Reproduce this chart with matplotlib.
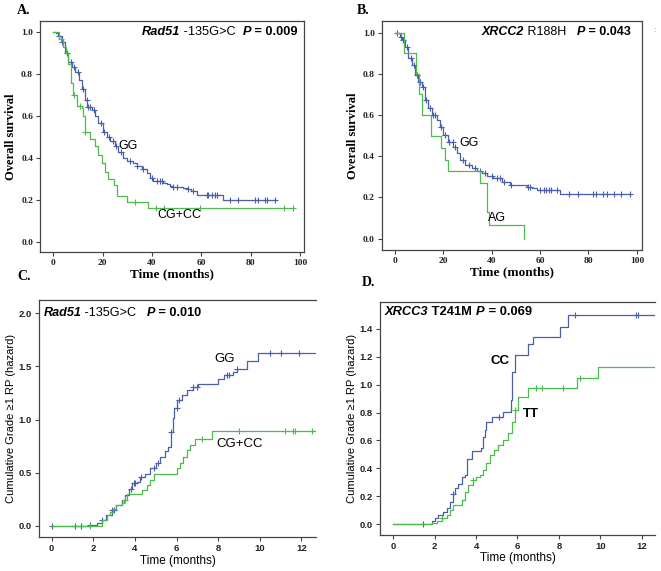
import numpy as np
import matplotlib
matplotlib.use("Agg")
import matplotlib.pyplot as plt

BLUE = "#4a5fab"
GREEN = "#4dbb4d"
SERIF = ["Liberation Serif", "DejaVu Serif"]
SANS = ["Liberation Sans", "DejaVu Sans"]

# ---- A: Rad51 -135G>C, overall survival
tA_gg = [0, 1, 2, 3.4, 4.7, 6.1, 7.4, 8.8, 10.5, 11.5, 12.8, 13.8, 15.5, 16.9, 18.2, 20.3,
         21.6, 23, 25, 26.4, 28.4, 29.7, 32.4, 33.8, 35.8, 37.8, 39.2, 40.5, 44.6, 45.9,
         47.3, 48.6, 52.7, 54, 56, 58.1, 68.7, 90.3]
sA_gg = [1.0, 0.995, 0.98, 0.955, 0.9, 0.86, 0.836, 0.81, 0.77, 0.73, 0.676, 0.645, 0.63,
         0.6, 0.565, 0.525, 0.5, 0.48, 0.455, 0.43, 0.4, 0.385, 0.376, 0.36, 0.345, 0.33,
         0.305, 0.29, 0.279, 0.275, 0.265, 0.263, 0.255, 0.25, 0.24, 0.223, 0.199, 0.199]
cA_gg = [2.5, 3.5, 5.5, 7, 8.2, 10, 12.2, 13.5, 14.2, 15, 16.5, 19.5, 20.5, 22.5, 24, 25.5,
         27.5, 31, 33.8, 36.5, 39.9, 41.9, 43.3, 43.9, 48.6, 50, 54.7, 56.7, 62.2, 62.8,
         64.2, 65.5, 66.2, 71.6, 75, 81.8, 83.1, 85.8, 86.5, 89.9]
tA_cg = [0, 2.5, 4, 5, 6, 7, 8, 9.7, 11.5, 12.2, 12.9, 14.7, 16.9, 18.3, 19.6, 21, 22.3,
         24.5, 26, 29.7, 38.5, 97.3]
sA_cg = [1.0, 0.97, 0.93, 0.9, 0.85, 0.76, 0.70, 0.65, 0.64, 0.60, 0.525, 0.49, 0.455,
         0.415, 0.375, 0.335, 0.30, 0.27, 0.22, 0.191, 0.16, 0.16]
cA_cg = [3, 8.2, 11, 13, 33.1, 41.5, 44.9, 59.5, 93.5, 97.3]

# ---- B: XRCC2 R188H, overall survival
tB_gg = [0, 0.7, 2, 2.8, 4.1, 5.5, 6.9, 8.3, 9.7, 11, 12.4, 13.8, 15.2, 17.2, 18.6, 20,
         22.1, 24.1, 25.5, 26.9, 29, 31.7, 33.8, 35.9, 37.9, 40.7, 44.1, 47.6, 54.5, 56.6,
         58.6, 68.3, 97.2]
sB_gg = [1.0, 1.0, 0.98, 0.964, 0.93, 0.875, 0.843, 0.795, 0.762, 0.738, 0.673, 0.633,
         0.6, 0.576, 0.544, 0.503, 0.47, 0.447, 0.414, 0.382, 0.358, 0.342, 0.33, 0.317,
         0.304, 0.293, 0.277, 0.26, 0.252, 0.244, 0.236, 0.215, 0.215]
cB_gg = [1, 2.5, 3.5, 5, 6.5, 8, 9, 10.5, 11.5, 13, 14.5, 15.5, 16.5, 19, 20.5, 22.5, 24,
         25, 28, 30.5, 33, 35, 37, 40, 42, 43.5, 45, 48, 55, 56, 60, 61.5, 62.5, 63.5,
         64.5, 67, 72, 75.5, 82, 83, 86, 87.5, 90.5, 93.5, 97]
tB_ag = [0, 3.7, 8.5, 10, 11, 14.7, 19, 20.6, 22, 35.2, 38, 39, 53.4]
sB_ag = [1.0, 0.903, 0.80, 0.70, 0.60, 0.50, 0.44, 0.38, 0.33, 0.27, 0.13, 0.067, 0.0]

# ---- C: Rad51 -135G>C, cumulative hazard of grade >=1 RP
tC_gg = [0, 1.85, 2.16, 2.4, 2.6, 2.9, 3.1, 3.37, 3.5, 3.7, 3.85, 4.1, 4.25, 4.5, 4.7,
         5.0, 5.2, 5.45, 5.6, 5.72, 5.82, 5.9, 6.04, 6.25, 6.5, 6.8, 7.05, 8.0, 8.3, 8.7,
         8.9, 9.4, 9.9, 12.7]
hC_gg = [0, 0.01, 0.03, 0.05, 0.1, 0.15, 0.195, 0.24, 0.29, 0.35, 0.4, 0.415, 0.46, 0.49,
         0.54, 0.59, 0.65, 0.70, 0.745, 0.885, 1.01, 1.105, 1.18, 1.23, 1.28, 1.31, 1.33,
         1.38, 1.42, 1.45, 1.48, 1.55, 1.625, 1.625]
cC_gg = [0, 1.1, 1.4, 1.85, 2.4, 2.9, 3.0, 3.8, 3.95, 4.0, 4.3, 4.9, 5.1, 5.75, 6.0, 6.1,
         6.8, 7.0, 8.4, 8.5, 8.9, 10.5, 11.0, 11.9]
tC_cg = [0, 2.4, 2.65, 2.8, 2.95, 3.1, 3.37, 3.45, 3.6, 4.33, 4.57, 4.7, 4.9, 6.0, 6.17,
         6.3, 6.5, 6.65, 6.9, 7.7, 12.7]
hC_cg = [0, 0.05, 0.1, 0.13, 0.16, 0.195, 0.21, 0.24, 0.295, 0.335, 0.38, 0.43, 0.49,
         0.54, 0.59, 0.65, 0.71, 0.76, 0.82, 0.895, 0.895]
cC_cg = [1.85, 3.5, 7.2, 9.0, 11.2, 11.6, 11.7, 12.5]

# ---- D: XRCC3 T241M, cumulative hazard of grade >=1 RP
tD_cc = [0, 1.85, 2.0, 2.17, 2.4, 2.58, 2.74, 2.87, 2.98, 3.14, 3.3, 3.46, 3.54, 3.78,
         4.25, 4.31, 4.43, 4.5, 4.75, 5.3, 5.67, 5.72, 5.88, 6.5, 6.76, 8.05, 8.45, 12.7]
hD_cc = [0, 0.02, 0.043, 0.067, 0.09, 0.115, 0.16, 0.22, 0.26, 0.29, 0.34, 0.35, 0.467,
         0.527, 0.544, 0.627, 0.675, 0.735, 0.765, 0.806, 0.89, 1.09, 1.21, 1.29, 1.34,
         1.41, 1.5, 1.5]
cD_cc = [1.45, 2.9, 5.1, 8.8, 11.7, 11.8]
tD_tt = [0, 1.85, 2.1, 2.33, 2.58, 2.74, 2.9, 3.32, 3.46, 3.62, 3.83, 4.0, 4.19, 4.35, 4.5,
         4.67, 4.86, 5.07, 5.3, 5.56, 5.72, 5.88, 6.04, 6.52, 8.86, 9.9, 12.7]
hD_tt = [0, 0.01, 0.024, 0.043, 0.067, 0.1, 0.14, 0.175, 0.234, 0.28, 0.317, 0.34, 0.353,
         0.39, 0.436, 0.496, 0.53, 0.568, 0.603, 0.65, 0.735, 0.818, 0.913, 0.973, 1.045,
         1.128, 1.128]
cD_tt = [2.35, 3.85, 5.9, 6.9, 7.2, 8.2, 9.0]


def km(ax, t, s, cens, color):
    t = np.asarray(t)
    s = np.asarray(s)
    ax.step(t, s, where="post", color=color, lw=0.9)
    if cens:
        c = np.asarray(cens)
        idx = np.clip(np.searchsorted(t, c, side="right") - 1, 0, len(s) - 1)
        ax.plot(c, s[idx], "+", color=color, ms=4.5, mew=0.8)


def rich(ax, x, y, parts, size):
    # consecutive text pieces with different styles
    txt, kw = parts[0]
    t = ax.text(x, y, txt, transform=ax.transAxes, fontsize=size, family=SANS,
                va="center", ha="left", **kw)
    for txt, kw in parts[1:]:
        t = ax.annotate(txt, xy=(1, 0), xycoords=t, va="bottom", ha="left",
                        fontsize=size, family=SANS, **kw)


def style(ax, tickfam, spine_right=True):
    for side in ["left", "bottom", "top", "right"]:
        ax.spines[side].set_color("#444444")
        ax.spines[side].set_linewidth(0.9)
    if not spine_right:
        ax.spines["right"].set_visible(False)
    ax.tick_params(direction="out", length=3, width=0.8, color="#444444", pad=2)
    for lab in ax.get_xticklabels() + ax.get_yticklabels():
        lab.set_family(tickfam)
        lab.set_fontweight("bold")
        lab.set_fontsize(6.8)
        lab.set_color("#222222")


fig = plt.figure(figsize=(6.61, 5.71), dpi=100)

# A
axA = fig.add_axes([0.0605, 0.5587, 0.3994, 0.4046])
km(axA, tA_gg, sA_gg, cA_gg, BLUE)
km(axA, tA_cg, sA_cg, cA_cg, GREEN)
axA.set_xlim(-5.4, 101.6)
axA.set_ylim(-0.049, 1.054)
axA.set_xticks(np.arange(0, 101, 20))
axA.set_yticks(np.arange(0, 1.01, 0.2))
axA.yaxis.set_major_formatter("{x:.1f}")
style(axA, SERIF)
axA.set_ylabel("Overall survival", family=SERIF, fontweight="bold", fontsize=9, labelpad=3)
axA.set_xlabel("Time (months)", family=SERIF, fontweight="bold", fontsize=9.5, labelpad=1)
axA.text(26.2, 0.457, "GG", fontsize=9, family=SANS, va="center")
axA.text(42.0, 0.128, "CG+CC", fontsize=9, family=SANS, va="center")
rich(axA, 0.385, 0.952, [("Rad51", dict(style="italic", fontweight="bold")),
                         (" -135G>C  ", dict()),
                         ("P", dict(style="italic", fontweight="bold")),
                         (" = 0.009", dict(fontweight="bold"))], 9.2)

# B
axB = fig.add_axes([0.5775, 0.5622, 0.3933, 0.4016])
km(axB, tB_gg, sB_gg, cB_gg, BLUE)
km(axB, tB_ag, sB_ag, None, GREEN)
axB.set_xlim(-5.5, 102)
axB.set_ylim(-0.055, 1.058)
axB.set_xticks(np.arange(0, 101, 20))
axB.set_yticks(np.arange(0, 1.01, 0.2))
axB.yaxis.set_major_formatter("{x:.1f}")
style(axB, SERIF)
axB.set_ylabel("Overall survival", family=SERIF, fontweight="bold", fontsize=9, labelpad=3)
axB.set_xlabel("Time (months)", family=SERIF, fontweight="bold", fontsize=9.5, labelpad=1)
axB.text(26.6, 0.463, "GG", fontsize=9, family=SANS, va="center")
axB.text(38.4, 0.099, "AG", fontsize=9, family=SANS, va="center")
rich(axB, 0.385, 0.949, [("XRCC2", dict(style="italic", fontweight="bold")),
                         (" R188H   ", dict()),
                         ("P", dict(style="italic", fontweight="bold")),
                         (" = 0.043", dict(fontweight="bold"))], 9.0)

# C
axC = fig.add_axes([0.059, 0.0590, 0.4191, 0.4156])
km(axC, tC_gg, hC_gg, cC_gg, BLUE)
km(axC, tC_cg, hC_cg, cC_cg, GREEN)
axC.set_xlim(-0.61, 12.7)
axC.set_ylim(-0.109, 2.125)
axC.set_xticks(np.arange(0, 13, 2))
axC.set_yticks(np.arange(0, 2.01, 0.5))
axC.yaxis.set_major_formatter("{x:.1f}")
style(axC, SANS, spine_right=False)
axC.set_ylabel("Cumulative Grade \u22651 RP (hazard)", family=SANS, fontsize=8, labelpad=2)
axC.set_xlabel("Time (months)", family=SANS, fontsize=8.5, labelpad=1)
axC.text(7.8, 1.57, "GG", fontsize=9.5, family=SANS, va="center")
axC.text(7.93, 0.766, "CG+CC", fontsize=9.5, family=SANS, va="center")
rich(axC, 0.016, 0.944, [("Rad51", dict(style="italic", fontweight="bold")),
                         (" -135G>C   ", dict()),
                         ("P", dict(style="italic", fontweight="bold")),
                         (" = 0.010", dict(fontweight="bold"))], 9.1)

# D
axD = fig.add_axes([0.5749, 0.0630, 0.4160, 0.4086])
km(axD, tD_cc, hD_cc, cD_cc, BLUE)
km(axD, tD_tt, hD_tt, cD_tt, GREEN)
axD.set_xlim(-0.64, 12.64)
axD.set_ylim(-0.077, 1.593)
axD.set_xticks(np.arange(0, 13, 2))
axD.set_yticks(np.arange(0, 1.41, 0.2))
axD.yaxis.set_major_formatter("{x:.1f}")
style(axD, SANS, spine_right=False)
axD.set_ylabel("Cumulative Grade \u22651 RP (hazard)", family=SANS, fontsize=8, labelpad=2)
axD.set_xlabel("Time (months)", family=SANS, fontsize=8.5, labelpad=1)
axD.text(4.72, 1.169, "CC", fontsize=9.5, family=SANS, va="center", fontweight="bold")
axD.text(6.28, 0.787, "TT", fontsize=9.5, family=SANS, va="center", fontweight="bold")
rich(axD, 0.018, 0.955, [("XRCC3", dict(style="italic", fontweight="bold")),
                         (" T241M ", dict(fontweight="bold")),
                         ("P", dict(style="italic", fontweight="bold")),
                         (" = 0.069", dict(fontweight="bold"))], 9.3)

# panel letters
for lbl, x, y in [("A.", 17, 10), ("B.", 357, 10), ("C.", 17, 277), ("D.", 362, 282)]:
    fig.text(x / 661, 1 - y / 571, lbl, family=SERIF, fontweight="bold", fontsize=10,
             va="center", ha="left")
fig.text(653 / 661, 1 - 30 / 571, ":", fontsize=5, color="#888888", va="center")

fig.savefig("out.png", dpi=100)
